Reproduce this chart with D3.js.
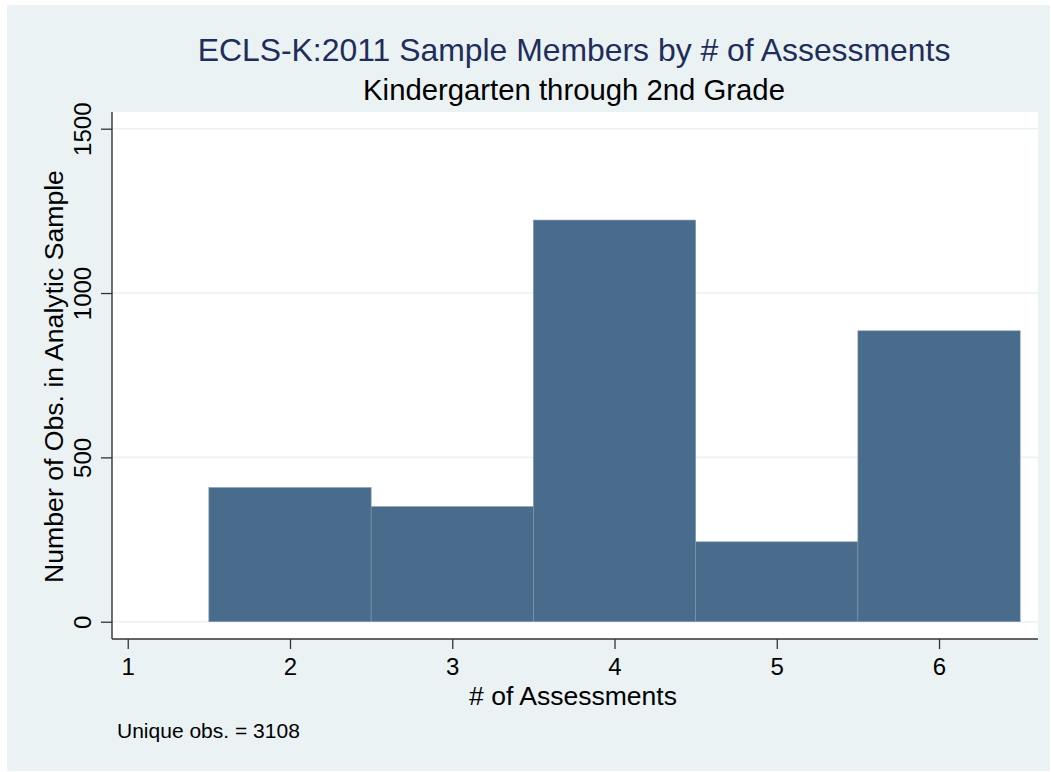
<!DOCTYPE html>
<html>
<head>
<meta charset="utf-8">
<script src="https://cdn.jsdelivr.net/npm/d3@7"></script>
<style>
  html, body { margin: 0; padding: 0; background: #ffffff; }
  svg { display: block; }
  text { font-family: "Liberation Sans", Arial, Helvetica, sans-serif; }
</style>
</head>
<body>
<svg id="chart" width="1051" height="772"></svg>
<script>
// ---- data ----
const categories = [2, 3, 4, 5, 6];
const counts = [408, 350, 1222, 243, 885];
const yTicks = [0, 500, 1000, 1500];
const xTicks = [1, 2, 3, 4, 5, 6];
const titleText = "ECLS-K:2011 Sample Members by # of Assessments";
const subtitleText = "Kindergarten through 2nd Grade";
const xTitle = "# of Assessments";
const yTitle = "Number of Obs. in Analytic Sample";
const noteText = "Unique obs. = 3108";

// ---- layout ----
const W = 1051, H = 772;
const plot = { left: 112, right: 1038, top: 112, bottom: 639 };
const svg = d3.select("#chart");

svg.append("rect").attr("x", 7).attr("y", 5).attr("width", W - 8).attr("height", H - 6)
  .attr("fill", "#eaf2f3");
svg.append("rect").attr("x", plot.left).attr("y", plot.top)
  .attr("width", plot.right - plot.left).attr("height", plot.bottom - plot.top)
  .attr("fill", "#ffffff");

const x = d3.scaleLinear().domain([0.903, 6.61]).range([plot.left, plot.right]);
const y = d3.scaleLinear().domain([-52.6, 1550.8]).range([plot.bottom, plot.top]);

// gridlines
svg.append("g").selectAll("line").data(yTicks).join("line")
  .attr("x1", plot.left).attr("x2", plot.right)
  .attr("y1", d => y(d)).attr("y2", d => y(d))
  .attr("stroke", "#eaf2f3").attr("stroke-width", 1.6);

// bars
svg.append("g").selectAll("rect").data(categories).join("rect")
  .attr("x", (d) => x(d - 0.5))
  .attr("width", (d) => x(d + 0.5) - x(d - 0.5))
  .attr("y", (d, i) => y(counts[i]))
  .attr("height", (d, i) => y(0) - y(counts[i]))
  .attr("fill", "#496c8d")
  .attr("stroke", "#7f97ae").attr("stroke-width", 0.6);

// y axis
const yAxis = d3.axisLeft(y).tickValues(yTicks).tickSize(11).tickPadding(0).tickFormat(d3.format("d"));
const gy = svg.append("g").attr("transform", `translate(${plot.left},0)`).call(yAxis);
gy.select(".domain").attr("d", `M0,${plot.top}V${plot.bottom}`).attr("stroke", "#333").attr("stroke-width", 1.4);
gy.selectAll(".tick line").attr("stroke", "#333").attr("stroke-width", 1.3);
gy.selectAll(".tick text")
  .attr("transform", "rotate(-90)")
  .attr("x", 0).attr("y", -21).attr("dy", 0)
  .attr("text-anchor", "middle")
  .attr("font-size", 24).attr("fill", "#000")
  .style("font-family", '"Liberation Sans", Arial, sans-serif');

// x axis
const xAxis = d3.axisBottom(x).tickValues(xTicks).tickSize(10).tickPadding(0).tickFormat(d3.format("d"));
const gx = svg.append("g").attr("transform", `translate(0,${plot.bottom})`).call(xAxis);
gx.select(".domain").attr("d", `M${plot.left},0H${plot.right}`).attr("stroke", "#333").attr("stroke-width", 1.4);
gx.selectAll(".tick line").attr("stroke", "#333").attr("stroke-width", 1.3);
gx.selectAll(".tick text")
  .attr("y", 36).attr("dy", 0)
  .attr("font-size", 24).attr("fill", "#000")
  .style("font-family", '"Liberation Sans", Arial, sans-serif');

// helper: fit text to a target width
function fit(sel, target) {
  const len = sel.node().getComputedTextLength();
  const fs = parseFloat(sel.attr("font-size"));
  sel.attr("font-size", fs * target / len);
}

const cx = (plot.left + plot.right) / 2;
const t = svg.append("text").attr("x", cx - 1).attr("y", 60.5).attr("text-anchor", "middle")
  .attr("font-size", 28).attr("fill", "#1f2d5a").text(titleText);
fit(t, 753);
const st = svg.append("text").attr("x", cx - 1).attr("y", 99.5).attr("text-anchor", "middle")
  .attr("font-size", 21).attr("fill", "#000").text(subtitleText);
fit(st, 422);
const xt = svg.append("text").attr("x", 573).attr("y", 704.5).attr("text-anchor", "middle")
  .attr("font-size", 26).attr("fill", "#000").text(xTitle);
fit(xt, 208);
const yt = svg.append("text").attr("transform", `translate(63,376.5) rotate(-90)`).attr("text-anchor", "middle")
  .attr("font-size", 26).attr("fill", "#000").text(yTitle);
fit(yt, 413);
const nt = svg.append("text").attr("x", 117).attr("y", 737.5)
  .attr("font-size", 21).attr("fill", "#000").text(noteText);
fit(nt, 183);
</script>
</body>
</html>
